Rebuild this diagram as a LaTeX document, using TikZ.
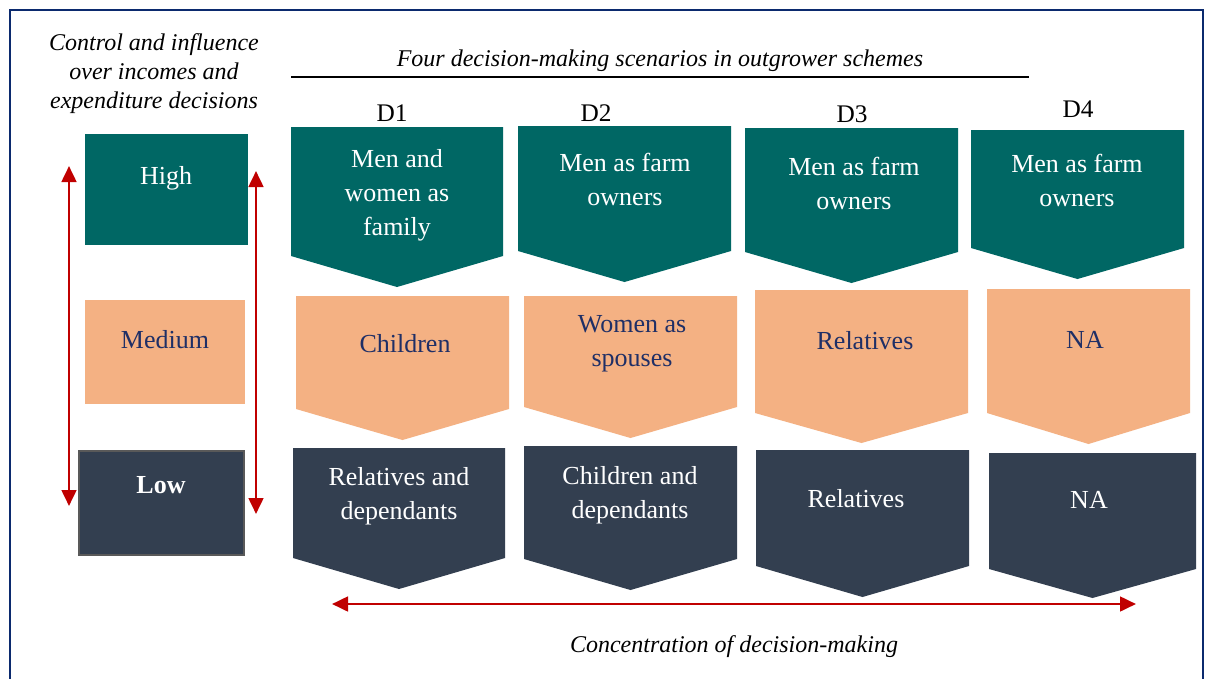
\documentclass[tikz,border=0pt]{standalone}
\usepackage{fontspec}
\setmainfont{Liberation Serif}
\usetikzlibrary{arrows.meta}

\definecolor{highc}{HTML}{006764}
\definecolor{medc}{HTML}{F4B183}
\definecolor{lowc}{HTML}{333F50}
\definecolor{navy}{HTML}{1F2F66}
\definecolor{framec}{HTML}{0B2A6E}
\definecolor{arrowc}{HTML}{C00000}

% filled down-pointing chevron: colour, left x, right x, top y, side bottom y, tip y
\newcommand{\chevshape}[6]{%
  \fill[#1] (#2,#4) -- (#3,#4) -- (#3,#5) -- ({(#2+#3)/2},#6) -- (#2,#5) -- cycle;}

\tikzset{
  boxtext/.style={align=center, inner sep=0pt,
    font=\fontsize{19.5pt}{25.5pt}\selectfont},
  ontealtext/.style={boxtext, text=white},
  onsalmontext/.style={boxtext, text=navy},
  ondarktext/.style={boxtext, text=white},
  caption/.style={align=center, inner sep=0pt,
    font=\fontsize{18pt}{21.75pt}\selectfont\itshape},
  dlabel/.style={inner sep=0pt, font=\fontsize{19pt}{22pt}\selectfont},
  redarrow/.style={draw=arrowc, line width=2pt,
    {Triangle[length=12pt,width=11pt]}-{Triangle[length=12pt,width=11pt]}},
}

\begin{document}
\begin{tikzpicture}[x=0.75pt, y=-0.75pt]
\useasboundingbox (0,0) rectangle (1208,679);
\fill[white] (0,0) rectangle (1208,679);

% outer frame
\draw[framec, line width=1.6pt] (10,10) rectangle (1203,700);

% left column: level boxes
\fill[highc] (85,134) rectangle (248,245);
\fill[medc] (85,300) rectangle (245,404);
\filldraw[fill=lowc, draw=black!65, line width=1.2pt] (79,451) rectangle (244,555);
\node[ontealtext] (high) at (166,178) {High};
\node[onsalmontext] (medium) at (165,340) {Medium};
\node[ondarktext, font=\fontsize{19.5pt}{26pt}\selectfont\bfseries] (low) at (161,485) {Low};

% left caption
\node[caption] (ctrl) at (154,74) {Control and influence\\over incomes and\\expenditure decisions};

% vertical level arrows
\coordinate (la1) at (69,166);
\coordinate (la2) at (69,506);
\coordinate (ra1) at (256,171);
\coordinate (ra2) at (256,514);
\draw[redarrow] (la1) -- (la2);
\draw[redarrow] (ra1) -- (ra2);

% title with rule
\node[caption] (title) at (660,61) {Four decision-making scenarios in outgrower schemes};
\coordinate (rule1) at (291,77);
\coordinate (rule2) at (1029,77);
\draw[black, line width=0.8pt] (rule1) -- (rule2);

% scenario labels
\node[dlabel] (d1) at (392,113) {D1};
\node[dlabel] (d2) at (596,113) {D2};
\node[dlabel] (d3) at (852,114) {D3};
\node[dlabel] (d4) at (1078,109) {D4};

% row 1: high
\chevshape{highc}{291}{503}{127}{256}{287}
\chevshape{highc}{518}{731}{126}{251}{282}
\chevshape{highc}{745}{958}{128}{252}{283}
\chevshape{highc}{971}{1184}{130}{248}{279}
\node[ontealtext] (h1) at (397,195) {Men and\\women as\\family};
\node[ontealtext] (h2) at (625,179) {Men as farm\\owners};
\node[ontealtext] (h3) at (854,183) {Men as farm\\owners};
\node[ontealtext] (h4) at (1077,180) {Men as farm\\owners};

% row 2: medium
\chevshape{medc}{296}{509}{296}{409}{440}
\chevshape{medc}{524}{737}{296}{407}{438}
\chevshape{medc}{755}{968}{290}{413}{443}
\chevshape{medc}{987}{1190}{289}{413}{444}
\node[onsalmontext] (m1) at (405,344) {Children};
\node[onsalmontext] (m2) at (632,344) {Women as\\spouses};
\node[onsalmontext] (m3) at (865,341) {Relatives};
\node[onsalmontext] (m4) at (1085,340) {NA};

% row 3: low
\chevshape{lowc}{293}{505}{448}{558}{589}
\chevshape{lowc}{524}{737}{446}{559}{590}
\chevshape{lowc}{756}{969}{450}{566}{597}
\chevshape{lowc}{989}{1196}{453}{569}{598}
\node[ondarktext] (l1) at (399,496) {Relatives and\\dependants};
\node[ondarktext] (l2) at (630,495) {Children and\\dependants};
\node[ondarktext] (l3) at (856,499) {Relatives};
\node[ondarktext] (l4) at (1089,500) {NA};

% concentration arrow and caption
\coordinate (ha1) at (332,604);
\coordinate (ha2) at (1136,604);
\draw[redarrow] (ha1) -- (ha2);
\node[caption] (conc) at (734,647) {Concentration of decision-making};
\end{tikzpicture}
\end{document}
